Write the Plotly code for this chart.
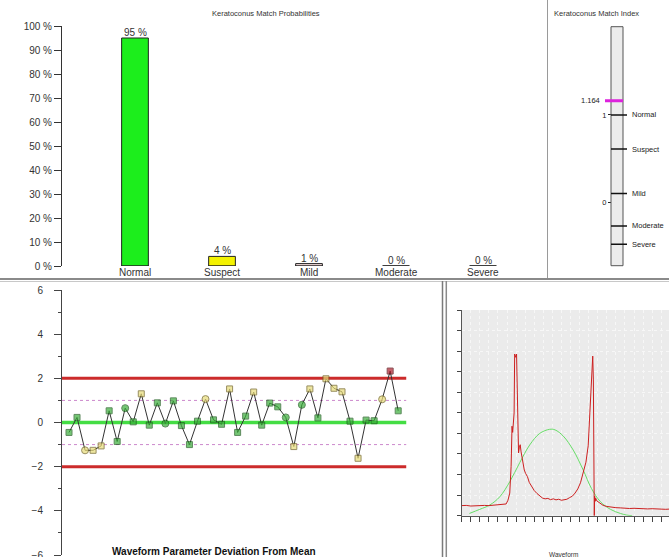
import plotly.graph_objects as go

# ---------------- data ----------------
# Keratoconus match probabilities (%)
prob_categories = ["Normal", "Suspect", "Mild", "Moderate", "Severe"]
prob_values = [95, 4, 1, 0, 0]
prob_colors = ["#1cee1c", "#f4f200", "#f3dcdc", "#ffffff", "#ffffff"]
prob_ticks = [0, 10, 20, 30, 40, 50, 60, 70, 80, 90, 100]

# Keratoconus match index
kmi_value = 1.164
kmi_levels = ["Normal", "Suspect", "Mild", "Moderate", "Severe"]
kmi_thresholds = [1.0, 0.61, 0.10, -0.27, -0.48]
kmi_range = [-0.726, 2.011]
kmi_ticks = [0, 1]

# Waveform parameter deviation from mean
dev_values = [-0.45, 0.23, -1.26, -1.26, -1.06, 0.53, -0.86, 0.65, 0.03, 1.30,
              -0.12, 0.89, -0.05, 0.98, -0.14, -1.00, 0.06, 1.06, 0.12, -0.08,
              1.52, -0.45, 0.29, 1.38, -0.12, 0.88, 0.71, 0.23, -1.09, 0.80,
              1.52, 0.21, 1.98, 1.55, 1.39, 0.06, -1.62, 0.11, 0.08, 1.05,
              2.33, 0.53]
dev_symbols = ["s", "s", "c", "s", "s", "s", "s", "c", "s", "s",
               "s", "s", "c", "s", "s", "s", "s", "c", "s", "s",
               "s", "s", "s", "s", "s", "s", "s", "c", "s", "c",
               "s", "s", "s", "s", "s", "s", "s", "s", "s", "c",
               "s", "s"]
dev_mean = 0
dev_warn = [1, -1]
dev_limit = [2, -2]

# Waveform signal (red) and fitted curve (green)
wave_x = [0.0, 0.5, 1.0, 1.5, 2.0, 2.5, 3.0, 3.5, 4.0, 4.5, 4.9, 5.1, 5.3, 5.45,
          5.55, 5.62, 5.7, 5.78, 5.84, 5.95, 6.05, 6.12, 6.2, 6.27, 6.35, 6.45,
          6.55, 6.65, 6.75, 6.9, 7.05, 7.25, 7.45, 7.7, 8.0, 8.3, 8.6, 8.9, 9.2,
          9.5, 9.8, 10.1, 10.4, 10.7, 11.0, 11.3, 11.6, 11.9, 12.2, 12.5, 12.8,
          13.1, 13.4, 13.7, 13.95, 14.1, 14.25, 14.35, 14.45, 14.52, 14.58,
          14.62, 14.66, 14.72, 14.78, 14.9, 15.1, 15.35, 15.6, 16.0, 16.5, 17.0,
          17.5, 18.0, 18.5, 19.0, 19.5, 20.0, 20.5, 21.0, 21.5, 22.0, 22.5, 22.86]
wave_y = [0.49, 0.50, 0.47, 0.49, 0.48, 0.50, 0.49, 0.51, 0.50, 0.53, 0.57, 0.75,
          1.10, 2.40, 4.35, 4.05, 4.40, 5.00, 7.86, 7.70, 7.86, 6.20, 4.60, 3.05,
          3.30, 3.45, 3.10, 2.87, 2.55, 2.22, 2.05, 1.90, 1.62, 1.42, 1.22, 1.08,
          0.95, 0.86, 0.82, 0.84, 0.78, 0.82, 0.77, 0.80, 0.75, 0.79, 0.80, 0.88,
          0.95, 1.10, 1.30, 1.60, 2.05, 2.60, 3.40, 4.60, 6.30, 7.20, 7.76, 6.60,
          3.50, 0.00, 0.95, 0.70, 0.85, 0.72, 0.66, 0.58, 0.50, 0.45, 0.41, 0.39,
          0.38, 0.36, 0.35, 0.36, 0.34, 0.35, 0.33, 0.34, 0.32, 0.33, 0.31, 0.32]
fit_x = [0.85, 2.0, 3.1, 4.2, 5.3, 6.4, 7.5, 8.6, 9.7, 10.3, 11.2, 12.3, 13.4,
         14.3, 15.3, 16.4, 17.5, 18.2, 18.8]
fit_y = [0.11, 0.31, 0.52, 0.92, 1.65, 2.58, 3.44, 4.00, 4.20, 4.17, 3.87, 3.19,
         2.22, 1.33, 0.68, 0.31, 0.11, 0.03, 0.00]

# ---------------- helpers ----------------
W, H = 669, 557
FONT = "Liberation Sans, Arial, sans-serif"


def px(x):
    return x / W


def py(y):
    return 1 - y / H


fig = go.Figure()
shapes = []
annotations = []

# ---------------- top-left: probabilities bar chart ----------------
bar_w = 0.307
cat_idx = list(range(len(prob_categories)))
fig.add_trace(go.Bar(
    x=cat_idx, y=prob_values, width=bar_w,
    marker=dict(color=prob_colors, line=dict(color="#222222", width=1)),
    xaxis="x", yaxis="y", hoverinfo="skip"))
for i, (c, v) in enumerate(zip(prob_categories, prob_values)):
    shapes.append(dict(type="line", xref="x", yref="y", x0=i - bar_w / 2,
                       x1=i + bar_w / 2, y0=0, y1=0,
                       line=dict(color="#222222", width=1)))
    annotations.append(dict(xref="x", yref="y", x=i, y=v, text=f"{v} %",
                            showarrow=False, yanchor="bottom", yshift=-2,
                            font=dict(size=10, color="#333333", family=FONT)))
    annotations.append(dict(xref="x", yref="y", x=i, y=0, text=c,
                            showarrow=False, yanchor="top", yshift=1,
                            font=dict(size=10, color="#333333", family=FONT)))
annotations.append(dict(xref="paper", yref="paper", x=px(266), y=py(13),
                        text="Keratoconus Match Probabilities", showarrow=False,
                        xanchor="center", yanchor="middle",
                        font=dict(size=7.5, color="#333333", family=FONT)))

# ---------------- top-right: match index ----------------
fig.add_trace(go.Scatter(x=[0], y=[kmi_value], mode="markers",
                         marker=dict(size=1, opacity=0), xaxis="x2", yaxis="y2",
                         hoverinfo="skip"))
bar_l, bar_r = px(611), px(623)
shapes.append(dict(type="rect", xref="paper", yref="y2 domain", x0=bar_l, x1=bar_r,
                   y0=0, y1=1, fillcolor="#ececec",
                   line=dict(color="#555555", width=1)))
for lvl, t in zip(kmi_levels, kmi_thresholds):
    shapes.append(dict(type="line", xref="paper", yref="y2", x0=bar_l, x1=px(627),
                       y0=t, y1=t, line=dict(color="#111111", width=1.5)))
    annotations.append(dict(xref="paper", yref="y2", x=px(630), y=t, text=lvl,
                            showarrow=False, xanchor="left", yanchor="middle",
                            font=dict(size=7.5, color="#222222", family=FONT)))
shapes.append(dict(type="line", xref="paper", yref="y2", x0=px(605), x1=bar_r,
                   y0=kmi_value, y1=kmi_value,
                   line=dict(color="#dd22dd", width=3)))
annotations.append(dict(xref="paper", yref="y2", x=px(602), y=kmi_value,
                        text=f"{kmi_value:.3f}", showarrow=False, xanchor="right",
                        yanchor="middle",
                        font=dict(size=7.5, color="#222222", family=FONT)))
annotations.append(dict(xref="paper", yref="paper", x=px(552), y=py(13),
                        text="Keratoconus Match Index", showarrow=False,
                        xanchor="left", yanchor="middle",
                        font=dict(size=7.5, color="#333333", family=FONT)))

# ---------------- bottom-left: deviation chart ----------------
n = len(dev_values)
dev_x = list(range(1, n + 1))
x3_start = 0.128
line_end = n + 1
for y0, col, wd, dash in [(dev_limit[0], "#cc2b2b", 3, "solid"),
                          (dev_limit[1], "#cc2b2b", 3, "solid"),
                          (dev_warn[0], "#cc88cc", 1, "dot"),
                          (dev_warn[1], "#cc88cc", 1, "dot"),
                          (dev_mean, "#44dd44", 3.5, "solid")]:
    shapes.append(dict(type="line", xref="x3", yref="y3", x0=x3_start, x1=line_end,
                       y0=y0, y1=y0, layer="below",
                       line=dict(color=col, width=wd, dash=dash)))


def mcolor(v):
    if abs(v) > 2:
        return "#b01c2c", "#5a0c10"
    if abs(v) > 1:
        return "#e8dc78", "#6e6020"
    return "#3aae3a", "#1b5a1b"


fills = [mcolor(v)[0] for v in dev_values]
edges = [mcolor(v)[1] for v in dev_values]
syms = ["circle" if s == "c" else "square" for s in dev_symbols]
sizes = [7 if s == "c" else 6 for s in dev_symbols]
fig.add_trace(go.Scatter(
    x=dev_x, y=dev_values, mode="lines+markers",
    line=dict(color="#333333", width=1),
    marker=dict(symbol=syms, size=sizes, color=fills,
                line=dict(color=edges, width=1)),
    xaxis="x3", yaxis="y3", hoverinfo="skip"))
annotations.append(dict(xref="paper", yref="paper", x=px(214), y=py(551),
                        text="<b>Waveform Parameter Deviation From Mean</b>",
                        showarrow=False, xanchor="center", yanchor="middle",
                        font=dict(size=10, color="#111111", family=FONT)))

# ---------------- bottom-right: waveform ----------------
shapes.append(dict(type="rect", xref="x4 domain", yref="y4 domain", x0=0, x1=1,
                   y0=0, y1=1, fillcolor="#ebebeb", line=dict(width=0),
                   layer="below"))
fig.add_trace(go.Scatter(x=fit_x, y=fit_y, mode="lines",
                         line=dict(color="#66dd66", width=1, shape="spline"),
                         xaxis="x4", yaxis="y4", hoverinfo="skip"))
fig.add_trace(go.Scatter(x=wave_x, y=wave_y, mode="lines",
                         line=dict(color="#cc2020", width=1),
                         xaxis="x4", yaxis="y4", hoverinfo="skip"))
annotations.append(dict(xref="paper", yref="paper", x=px(563), y=py(554),
                        text="Waveform", showarrow=False, xanchor="center",
                        yanchor="middle",
                        font=dict(size=6.5, color="#333333", family=FONT)))

# ---------------- panel dividers ----------------
shapes += [
    dict(type="line", xref="paper", yref="paper", x0=px(547.5), x1=px(547.5),
         y0=py(0), y1=py(278), line=dict(color="#9a9a9a", width=1)),
    dict(type="line", xref="paper", yref="paper", x0=0, x1=1, y0=py(279),
         y1=py(279), line=dict(color="#8a8a8a", width=2)),
    dict(type="line", xref="paper", yref="paper", x0=0, x1=1, y0=py(281.5),
         y1=py(281.5), line=dict(color="#c8c8c8", width=1)),
    dict(type="line", xref="paper", yref="paper", x0=px(442.5), x1=px(442.5),
         y0=py(281), y1=0, line=dict(color="#7a7a7a", width=1.5)),
    dict(type="line", xref="paper", yref="paper", x0=px(446.3), x1=px(446.3),
         y0=py(281), y1=0, line=dict(color="#8a8a8a", width=1.5)),
]

axis_font = dict(size=10, color="#333333", family=FONT)
fig.update_layout(
    width=W, height=H, margin=dict(l=0, r=0, t=0, b=0, pad=0),
    paper_bgcolor="white", plot_bgcolor="white", showlegend=False,
    font=dict(family=FONT),
    xaxis=dict(domain=[px(62), px(540)], range=[-0.839, 4.655], visible=False,
               anchor="y", automargin=False),
    yaxis=dict(domain=[py(266), py(26)], range=[0, 100], anchor="x",
               tickvals=prob_ticks, ticktext=[f"{t} %" for t in prob_ticks],
               ticks="outside", ticklen=7, tickcolor="#333333",
               showline=True, linecolor="#333333", linewidth=1,
               showgrid=False, zeroline=False, tickfont=axis_font,
               automargin=False),
    xaxis2=dict(domain=[px(560), px(669)], range=[0, 1], visible=False,
                anchor="y2", automargin=False),
    yaxis2=dict(domain=[py(265.7), py(26.7)], range=kmi_range, anchor="free",
                position=bar_l, tickvals=kmi_ticks,
                ticktext=[str(t) for t in kmi_ticks], ticks="outside",
                ticklen=3, tickcolor="#222222", showline=False, showgrid=False,
                zeroline=False, automargin=False,
                tickfont=dict(size=7.5, color="#222222", family=FONT)),
    xaxis3=dict(domain=[px(62), px(441)], range=[x3_start, 47.33], visible=False,
                anchor="y3", automargin=False),
    yaxis3=dict(domain=[py(555), py(290)], range=[-6, 6], anchor="x3",
                tick0=0, dtick=2, ticks="outside", ticklen=7,
                tickcolor="#444444", showline=True, linecolor="#444444",
                linewidth=1, showgrid=False, zeroline=False, automargin=False,
                ticklabelstandoff=9, ticklabeloverflow="allow", tickfont=axis_font,
                minor=dict(dtick=1, ticks="outside", ticklen=3,
                           tickcolor="#444444", showgrid=False)),
    xaxis4=dict(domain=[px(461.7), 1], range=[0, 22.86], anchor="y4",
                dtick=1, tick0=0, ticks="outside", ticklen=5,
                tickcolor="#444444", showticklabels=False, showline=True,
                linecolor="#555555", linewidth=1, showgrid=True,
                gridcolor="#f7f7f7", griddash="dot", zeroline=False,
                automargin=False),
    yaxis4=dict(domain=[py(515.7), py(310)], range=[0, 10], anchor="x4",
                dtick=1, tick0=0, ticks="outside", ticklen=4,
                tickcolor="#444444", showticklabels=False, showline=True,
                linecolor="#555555", linewidth=1, showgrid=True,
                gridcolor="#f7f7f7", griddash="dot", zeroline=False,
                automargin=False),
    shapes=shapes, annotations=annotations,
)

fig.write_html("out.html", config={"displayModeBar": False},
               post_script="document.body.style.margin='0';"
                           "document.body.style.overflow='hidden';")
